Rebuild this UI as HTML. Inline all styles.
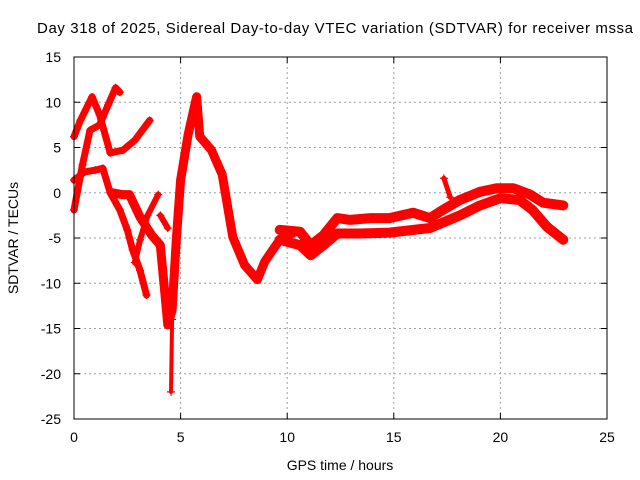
<!DOCTYPE html>
<html><head><meta charset="utf-8"><style>
body{margin:0;background:#fff}
svg{display:block;font-family:"Liberation Sans",sans-serif}
</style></head><body>
<svg id="chart" width="640" height="480">
<rect width="640" height="480" fill="#fff"/>
<text x="37" y="33" font-size="15" textLength="596">Day 318 of 2025, Sidereal Day-to-day VTEC variation (SDTVAR) for receiver mssa</text>
<g id="grid"></g>
<g id="axes"></g>
<g id="series"></g>
<rect x="74" y="57" width="533" height="362" fill="none" stroke="#000" stroke-width="1"/>
<text x="18" y="238" font-size="14" text-anchor="middle" transform="rotate(-90 18 238)">SDTVAR / TECUs</text>
<text x="340" y="470" font-size="14" text-anchor="middle">GPS time / hours</text>
</svg>
<script>
const xTicks=[0,5,10,15,20,25];
const yTicks=[15,10,5,0,-5,-10,-15,-20,-25];
const arcA=[[0,6.2],[0.3,8],[0.85,10.6],[1.2,8.6],[1.7,4.4],[2.3,4.7],[2.85,5.8],[3.55,8]];
const arcB=[[0,-1.9],[0.4,3.1],[0.75,6.9],[1.2,7.5],[1.6,9.7],[1.95,11.6],[2.15,11.1]];
const arcC=[[0,1.4],[0.5,2.3],[1,2.5],[1.35,2.7],[1.7,0],[2.15,-1.9],[2.5,-4.1],[2.75,-6.3],[3.1,-8.6],[3.4,-11.3]];
const arcD=[[1.8,0],[2.25,-0.2],[2.6,-0.2],[3.1,-2.7],[3.65,-4.7],[4.05,-5.8],[4.25,-10.8],[4.4,-14.6],[4.6,-13],[4.8,-5.2],[5,1.4],[5.35,6.4],[5.75,10.6],[5.9,6.2],[6.45,4.7],[6.95,2],[7.45,-4.9],[8,-8],[8.6,-9.6],[8.95,-7.6],[9.65,-5.2],[10.3,-4.4]];
const arcSpike=[[4.6,-14],[4.55,-22]];
const arcE=[[3.95,-0.2],[3.45,-2.5],[3.1,-5.2],[2.85,-7.7]];
const arcF=[[4.05,-2.5],[4.4,-3.9]];
const arcR1=[[9.65,-4.1],[10.6,-4.3],[11.1,-5.8],[11.7,-4.7],[12.35,-2.8],[12.95,-3],[13.9,-2.8],[14.8,-2.8],[15.9,-2.2],[16.7,-2.8],[17.3,-1.9],[18.1,-0.8],[19.05,0.1],[19.85,0.5],[20.6,0.5],[21.4,-0.2],[22,-1.1],[22.95,-1.4]];
const arcR2=[[9.65,-5.2],[10.6,-5.8],[11.1,-6.9],[11.7,-5.8],[12.35,-4.5],[13.4,-4.5],[14.8,-4.4],[16.7,-3.9],[18.1,-2.5],[19.05,-1.4],[20,-0.6],[20.9,-0.8],[21.5,-1.9],[22.2,-3.8],[22.95,-5.2]];
const arcR3=[[17.35,1.6],[17.65,-0.5]];

const NS="http://www.w3.org/2000/svg";
const X0=74,X1=607,Y0=419,Y1=57;
function sx(h){return X0+(h-0)/(25-0)*(X1-X0);}
function sy(v){return Y0-(v+25)/40*(Y0-Y1);}
function mk(tag,attrs,parent){const e=document.createElementNS(NS,tag);for(const k in attrs)e.setAttribute(k,attrs[k]);parent.appendChild(e);return e;}
const grid=document.getElementById('grid'),axes=document.getElementById('axes'),ser=document.getElementById('series');
xTicks.forEach(t=>{
  const x=sx(t);
  if(t>0&&t<25){const l=mk('line',{x1:x,x2:x,y1:Y1,y2:Y0,stroke:'#a0a0a0','stroke-dasharray':'2,3'},grid);
  
  }
  mk('line',{x1:x,x2:x,y1:Y0,y2:Y0-6,stroke:'#000'},axes);
  mk('line',{x1:x,x2:x,y1:Y1,y2:Y1+6,stroke:'#000'},axes);
  const tx=mk('text',{x:x,y:Y0+23,'font-size':14,'text-anchor':'middle'},axes);
  tx.textContent=t;
  
  
});
yTicks.forEach(t=>{
  const y=sy(t);
  if(t<15&&t>-25){const l=mk('line',{x1:X0,x2:X1,y1:y,y2:y,stroke:'#a0a0a0','stroke-dasharray':'2,3'},grid);
  
  }
  mk('line',{x1:X0,x2:X0+6,y1:y,y2:y,stroke:'#000'},axes);
  mk('line',{x1:X1,x2:X1-6,y1:y,y2:y,stroke:'#000'},axes);
  const tx=mk('text',{x:X0-13,y:y+5,'font-size':14,'text-anchor':'end'},axes);
  tx.textContent=t;
  
  
});
function draw(arr,w,name){
  const pts=arr.map(p=>sx(p[0]).toFixed(1)+','+sy(p[1]).toFixed(1)).join(' ');
  const pl=mk('polyline',{points:pts,fill:'none',stroke:'#ff0000','stroke-width':w,'stroke-linejoin':'round','stroke-linecap':'round'},ser);
  
  
  arr.forEach(p=>{
    const x=sx(p[0]),y=sy(p[1]);
    const m=mk('path',{d:`M${x-4},${y}H${x+4}M${x},${y-4}V${y+4}`,stroke:'#ff0000','stroke-width':1.2},ser);
    
    
  });
}
draw(arcA,7,'arc-a');
draw(arcB,7,'arc-b');
draw(arcC,7,'arc-c');
draw(arcD,9,'arc-d');
draw(arcSpike,4,'arc-spike');
draw(arcE,6,'arc-e');
draw(arcF,6,'arc-f');
draw(arcR1,10,'arc-r1');
draw(arcR2,10,'arc-r2');
draw(arcR3,5,'arc-r3');
</script>
</body></html>
